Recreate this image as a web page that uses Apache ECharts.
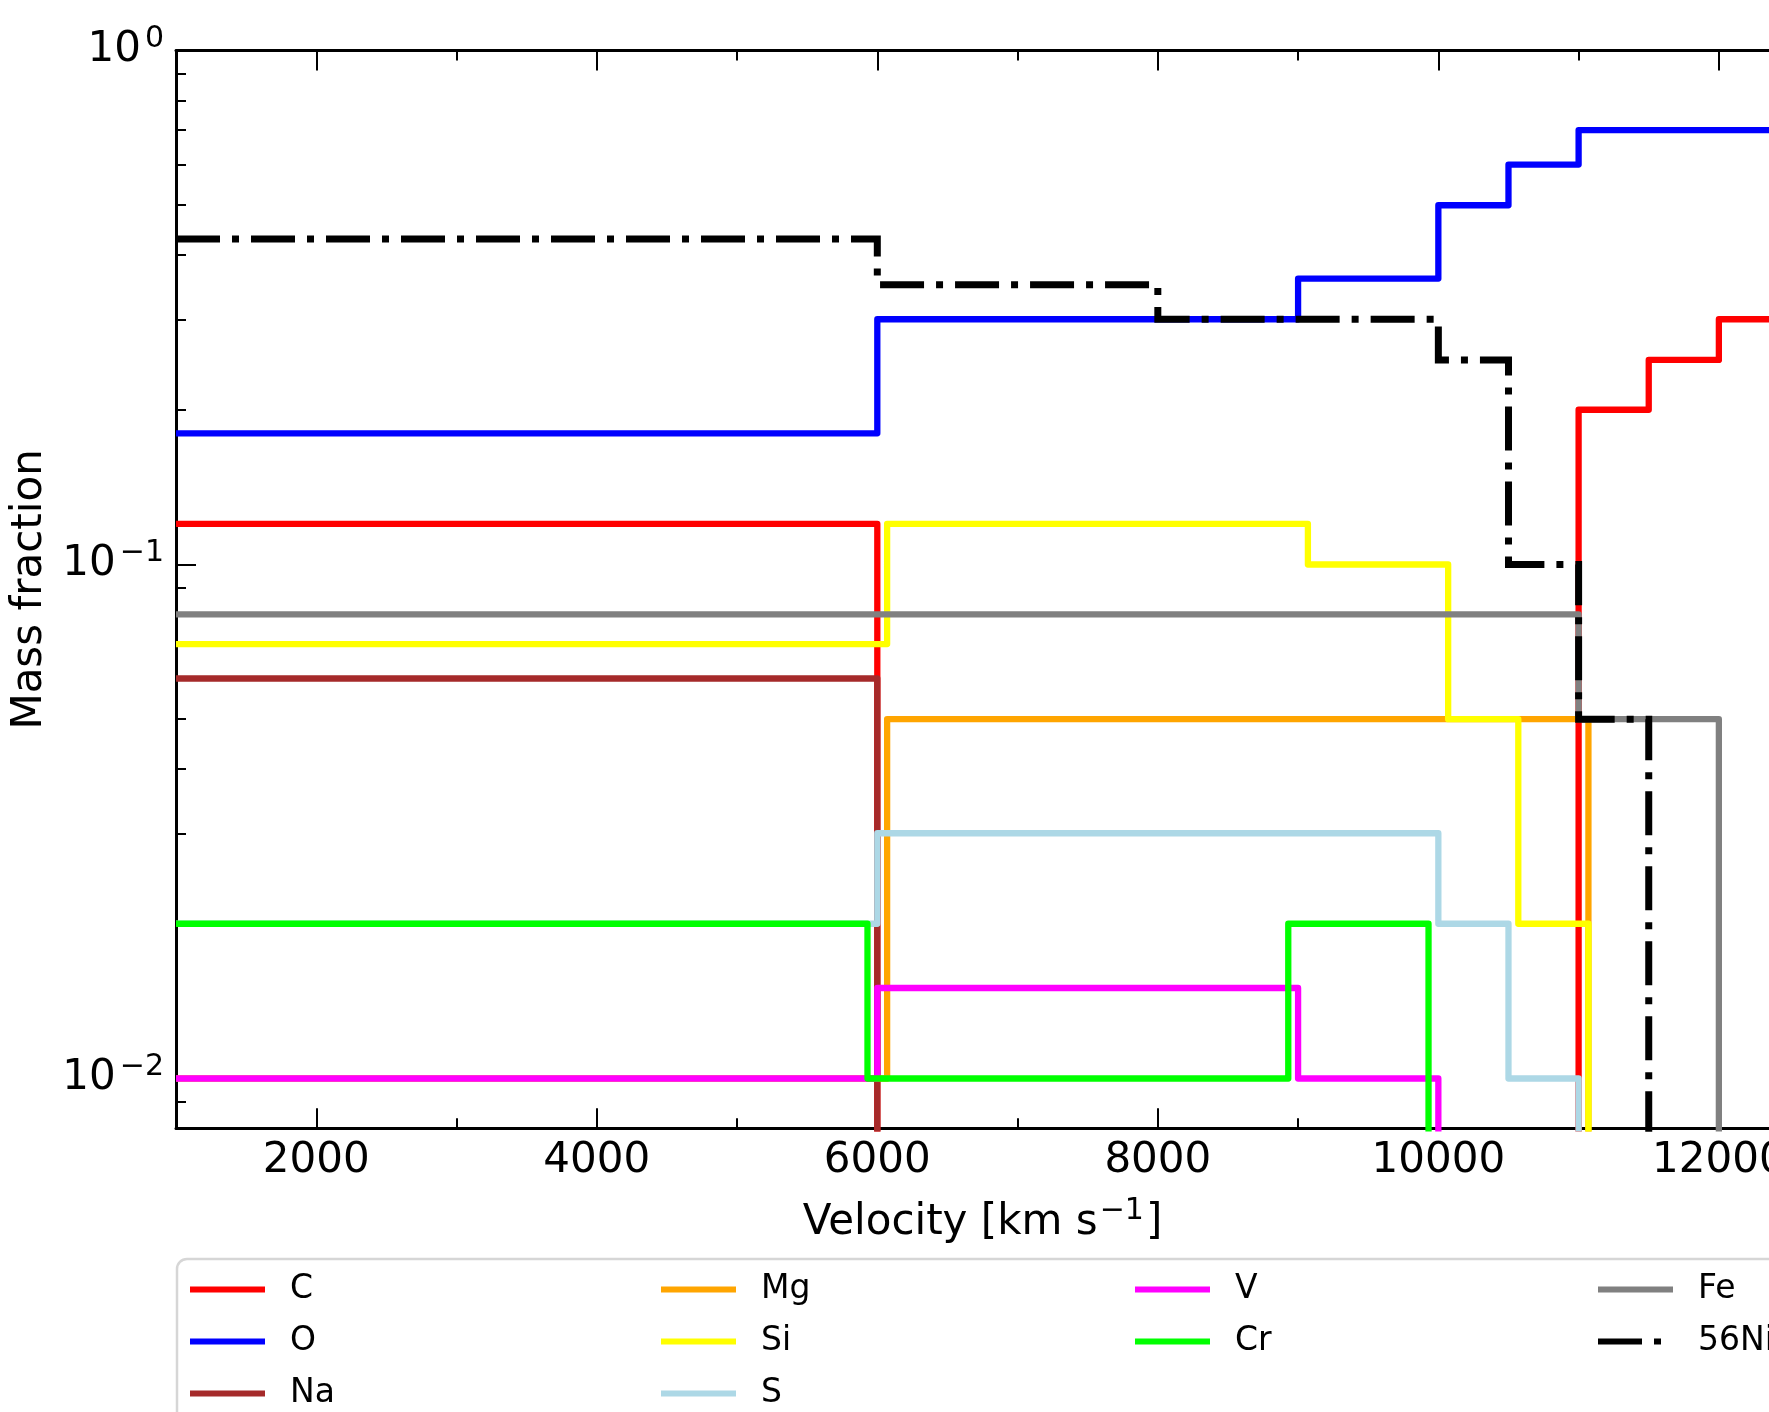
<!DOCTYPE html>
<html>
<head>
<meta charset="utf-8">
<script src="https://cdn.jsdelivr.net/npm/echarts@6/dist/echarts.min.js"></script>
<style>html,body{margin:0;padding:0;background:#fff;}#c{width:1769px;height:1412px;}</style>
</head>
<body>
<div id="c"></div>
<script>
// value below the plotted range: the step drops down to the axis
const BELOW = 1e-4;

// step boundaries (km/s) and mass fractions (steps-post)
const C_x  = [1000, 6000, 11000, 11500, 12000, 12500];
const C_y  = [0.12, BELOW, 0.2, 0.25, 0.3, 0.3];
const O_x  = [1000, 6000, 9000, 10000, 10500, 11000, 12500];
const O_y  = [0.18, 0.3, 0.36, 0.5, 0.6, 0.7, 0.7];
const Na_x = [1000, 6000, 12500];
const Na_y = [0.06, BELOW, BELOW];
const Mg_x = [1000, 6070, 11070, 12500];
const Mg_y = [0.01, 0.05, BELOW, BELOW];
const Si_x = [1000, 6070, 9070, 10070, 10570, 11070, 12500];
const Si_y = [0.07, 0.12, 0.1, 0.05, 0.02, BELOW, BELOW];
const S_x  = [1000, 6000, 10000, 10500, 11000, 12500];
const S_y  = [0.02, 0.03, 0.02, 0.01, BELOW, BELOW];
const V_x  = [1000, 6000, 9000, 10000, 12500];
const V_y  = [0.01, 0.015, 0.01, BELOW, BELOW];
const Cr_x = [1000, 5930, 8930, 9930, 12500];
const Cr_y = [0.02, 0.01, 0.02, BELOW, BELOW];
const Fe_x = [1000, 11000, 12000, 12500];
const Fe_y = [0.08, 0.05, BELOW, BELOW];
const Ni_x = [1000, 6000, 8000, 10000, 10500, 11000, 11500, 12500];
const Ni_y = [0.43, 0.35, 0.3, 0.25, 0.1, 0.05, BELOW, BELOW];

const seriesNames = ['C', 'O', 'Na', 'Mg', 'Si', 'S', 'V', 'Cr', 'Fe', '56Ni'];
const seriesX = [C_x, O_x, Na_x, Mg_x, Si_x, S_x, V_x, Cr_x, Fe_x, Ni_x];
const seriesY = [C_y, O_y, Na_y, Mg_y, Si_y, S_y, V_y, Cr_y, Fe_y, Ni_y];
const seriesColors = ['#ff0000', '#0000ff', '#a52a2a', '#ffa500', '#ffff00', '#add8e6', '#ff00ff', '#00ff00', '#808080', '#000000'];

const legendColumns = [['C', 'O', 'Na'], ['Mg', 'Si', 'S'], ['V', 'Cr'], ['Fe', '56Ni']];

const xMin = 1000, xMax = 12500;
const yMin = 0.008, yMax = 1;
const xMajor = [2000, 4000, 6000, 8000, 10000, 12000];
const xMinor = [3000, 5000, 7000, 9000, 11000];
const yMajor = [0.01, 0.1, 1];
const yExponents = ['\u22122', '\u22121', '0'];
const yMinor = [0.009, 0.02, 0.03, 0.04, 0.05, 0.06, 0.07, 0.08, 0.09,
                0.2, 0.3, 0.4, 0.5, 0.6, 0.7, 0.8, 0.9];

const FONT = 'DejaVu Sans';
const chart = echarts.init(document.getElementById('c'), null, {renderer: 'canvas'});

function xAx(position, ticks, major, extra) {
  return Object.assign({
    type: 'value', position: position, min: xMin, max: xMax,
    axisLine: {show: major, onZero: false, lineStyle: {color: '#000', width: 3}},
    axisTick: {show: true, inside: true, length: major ? 20 : 10, customValues: ticks,
               lineStyle: {color: '#000', width: 2}},
    axisLabel: {show: false},
    splitLine: {show: false}
  }, extra || {});
}
function yAx(position, ticks, major, extra) {
  return Object.assign({
    type: 'log', logBase: 10, position: position, min: yMin, max: yMax,
    axisLine: {show: major, onZero: false, lineStyle: {color: '#000', width: 3}},
    axisTick: {show: true, inside: true, length: major ? 20 : 10, customValues: ticks,
               lineStyle: {color: '#000', width: 2}},
    axisLabel: {show: false},
    splitLine: {show: false}
  }, extra || {});
}

const supStyle = {fontSize: 30, fontFamily: FONT, color: '#000', padding: [0, 0, 23, 4]};
const baseStyle = {fontSize: 42, fontFamily: FONT, color: '#000'};

const option = {
  animation: false,
  backgroundColor: '#fff',
  textStyle: {fontFamily: FONT},
  grid: {left: 176, top: 50.5, width: 1613, bottom: 283.7, containLabel: false, outerBoundsMode: 'none'},
  xAxis: [
    xAx('bottom', xMajor, true, {
      axisLabel: {show: true, customValues: xMajor, fontSize: 42, fontFamily: FONT, color: '#000', margin: 12,
                  formatter: function (v) { return String(Math.round(v)); }},
      name: '{b|Velocity [km s}{s|\u22121}{b|]}',
      nameLocation: 'middle', nameGap: 68,
      nameTextStyle: {rich: {b: baseStyle, s: {fontSize: 30, fontFamily: FONT, color: '#000', padding: [0, 2, 23, 2]}}}
    }),
    xAx('bottom', xMinor, false),
    xAx('top', xMajor, true),
    xAx('top', xMinor, false)
  ],
  yAxis: [
    yAx('left', yMajor, true, {
      axisLabel: {
        show: true, customValues: yMajor, margin: 12,
        formatter: function (v) {
          const p = Math.round(Math.log10(v));
          let idx = 0;
          for (let i = 0; i < yMajor.length; i++) {
            if (Math.round(Math.log10(yMajor[i])) === p) idx = i;
          }
          return '{b|10}{s|' + yExponents[idx] + '}';
        },
        rich: {b: baseStyle, s: supStyle}
      },
      name: 'Mass fraction', nameLocation: 'middle', nameGap: 114, nameRotate: 90,
      nameTextStyle: {fontSize: 42, fontFamily: FONT, color: '#000'}
    }),
    yAx('left', yMinor, false),
    yAx('right', yMajor, true),
    yAx('right', yMinor, false)
  ],
  legend: legendColumns.map(function (names, i) {
    return {
      orient: 'vertical', left: [187, 658, 1132, 1595][i], top: 1269.5, height: 300, width: 400, padding: 0,
      itemGap: 12, itemWidth: 75, itemHeight: 14, selectedMode: false,
      data: names,
      itemStyle: {opacity: 0, borderWidth: 0},
      lineStyle: {width: 6},
      textStyle: {fontSize: 33, fontFamily: FONT, color: '#000', lineHeight: 40, padding: [0, 0, 0, 20]}
    };
  }),
  graphic: [{
    type: 'rect', z: 0,
    shape: {x: 177, y: 1259, width: 1614, height: 400, r: 10},
    style: {fill: 'none', stroke: '#d6d6d6', lineWidth: 2.5}
  }],
  series: seriesNames.map(function (name, i) {
    const isNi = name === '56Ni';
    return {
      name: name, type: 'line', step: 'end', xAxisIndex: 0, yAxisIndex: 0,
      symbol: 'none', showSymbol: false, clip: true, z: 2 + i,
      color: seriesColors[i],
      lineStyle: {color: seriesColors[i], width: isNi ? 7 : 6.3,
                  type: isNi ? [44, 12, 7, 12] : 'solid',
                  cap: 'butt', join: isNi ? 'miter' : 'round'},
      emphasis: {disabled: true},
      data: seriesX[i].map(function (x, j) { return [x, seriesY[i][j]]; })
    };
  })
};
chart.setOption(option);
</script>
</body>
</html>
